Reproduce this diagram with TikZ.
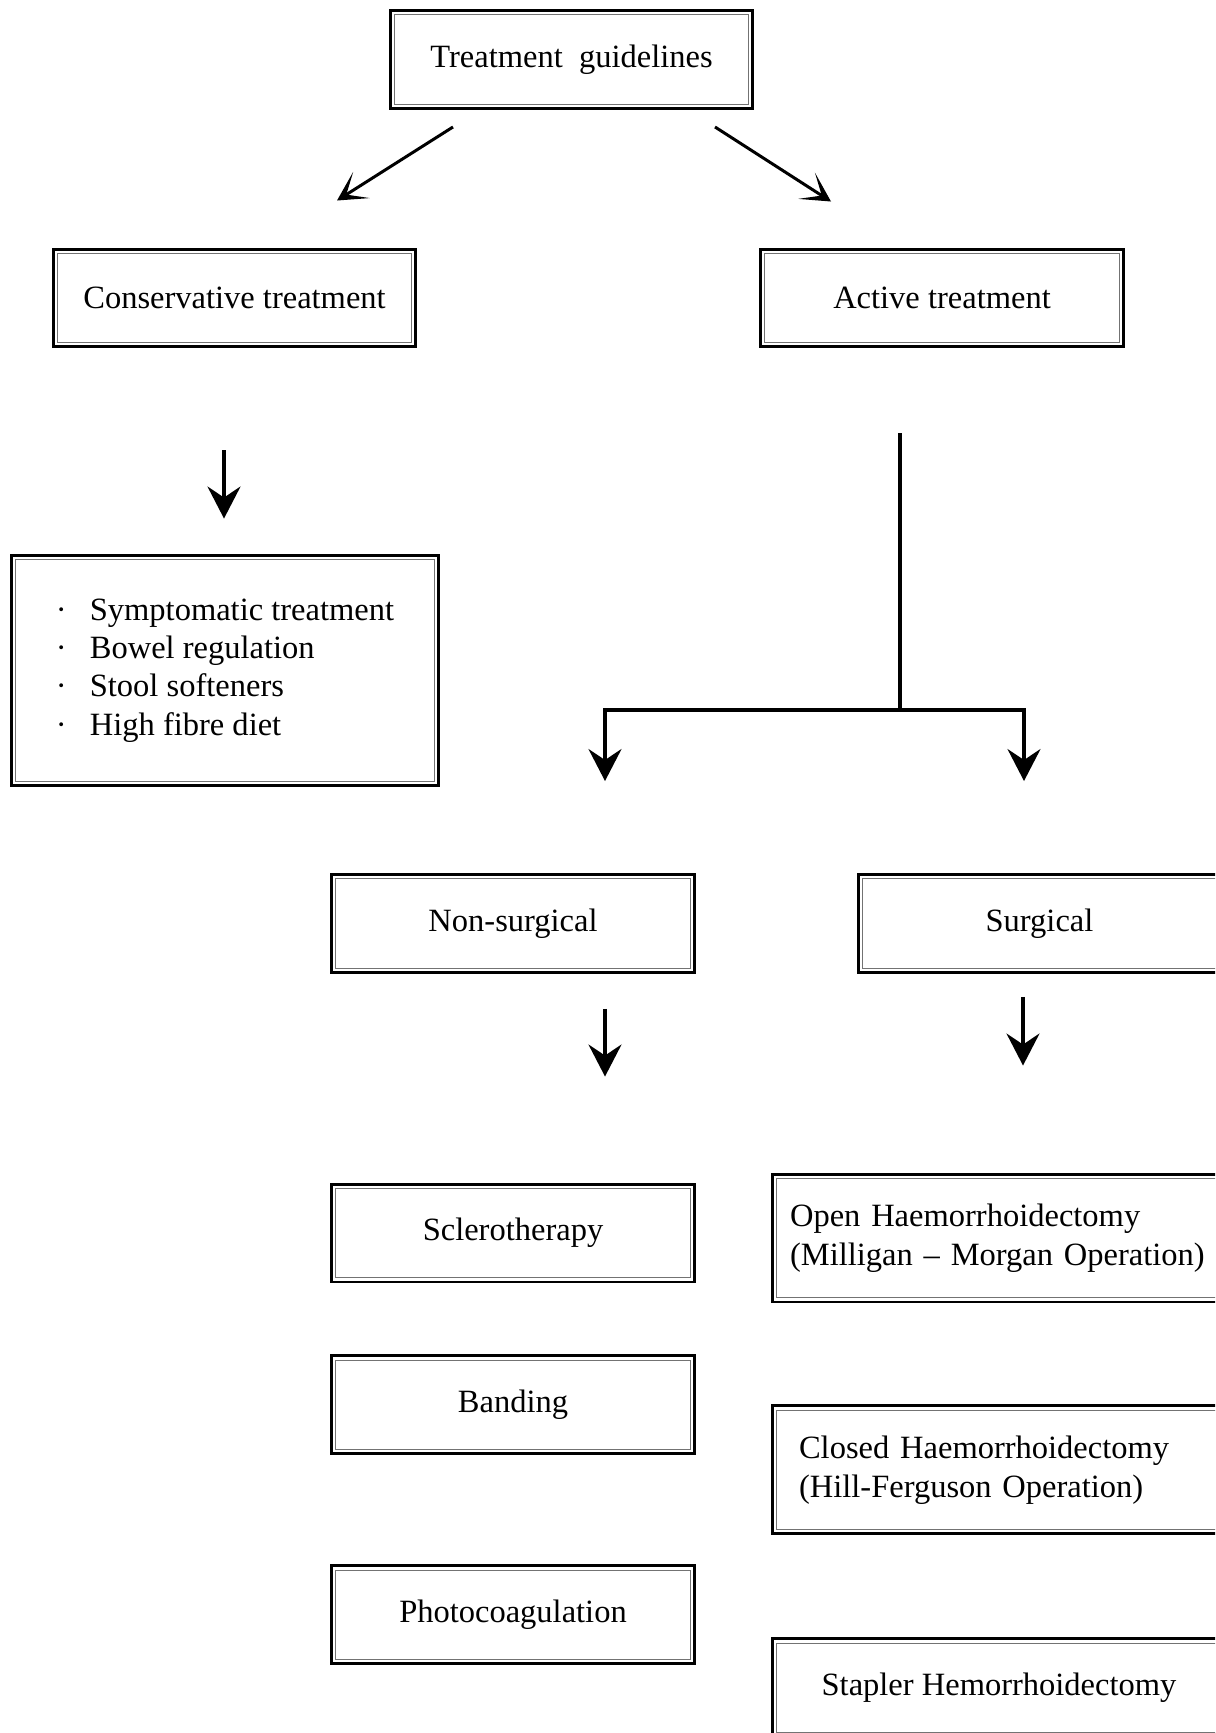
\documentclass[tikz,border=0pt]{standalone}
\usepackage{fontspec}
\setmainfont{Liberation Serif}
\usetikzlibrary{positioning, arrows.meta}

\begin{document}
\begin{tikzpicture}[
        x = 0.02cm, y = -0.02cm,
      box/.style = {rectangle, draw, line width=1.7pt, minimum width=7.26cm, minimum height=1.96cm,
                    font=\fontsize{18.5}{22}\selectfont,
                    path picture={\draw[line width=0.6pt, black!55]
                        ([shift={(2.4pt,-2.4pt)}]path picture bounding box.north west) rectangle
                        ([shift={(-2.4pt,2.4pt)}]path picture bounding box.south east);}},
     wbox/.style = {box, minimum width=9.08cm, minimum height=2.56cm, align=left},
      arr/.style = {line width=1.9pt, -{Stealth[length=0.64cm, width=0.66cm, inset=0.22cm]}},
     darr/.style = {line width=1.7pt, -{Stealth[length=0.58cm, width=0.62cm, inset=0.36cm]}}
                        ]
\useasboundingbox (0,0) rectangle (1215,1733);
\clip (0,0) rectangle (1215,1733);
\node (guide)  [box] at (571.5,59.5) {Treatment\hspace{0.5em}guidelines};
\node (cons)   [box] at (234.5,298) {Conservative treatment};
\node (active) [box] at (942,298) {Active treatment};
\node (list)   [box, minimum width=8.56cm, minimum height=4.62cm, align=left,
                font=\fontsize{18.5}{21.8}\selectfont] at (225,670.5)
               {\makebox[0.68cm][l]{·}Symptomatic treatment\\
                \makebox[0.68cm][l]{·}Bowel regulation\\
                \makebox[0.68cm][l]{·}Stool softeners\\
                \makebox[0.68cm][l]{·}High fibre diet};
\node (nons)   [box] at (513,923.5) {Non-surgical};
\node (surg)   [box] at (1039.5,923.5) {Surgical};
\node (scl)    [box] at (513,1233) {Sclerotherapy};
\node (band)   [box, below=1.42cm of scl] {Banding};
\node (photo)  [box, below=2.18cm of band] {Photocoagulation};
\node (open)   [wbox, text width=8.36cm, inner xsep=0.36cm] at (999,1238)
               {Open Haemorrhoidectomy\\(Milligan – Morgan Operation)};
\node (closed) [wbox, text width=8.0cm, inner xsep=0.54cm, below=2.02cm of open]
               {Closed Haemorrhoidectomy\\(Hill-Ferguson Operation)};
\node (stapler)[box, minimum width=9.08cm, below=2.04cm of closed] {Stapler Hemorrhoidectomy};
\coordinate (split) at (900,710);
\draw[darr] ([shift={(-118.5,17)}]guide.south) -- ([shift={(102.5,-47)}]cons.north);
\draw[darr] ([shift={(143.5,17)}]guide.south) -- ([shift={(-111,-46)}]active.north);
\draw[arr] ([shift={(-10.5,102)}]cons.south) -- ([shift={(-1,-35)}]list.north);
\draw[line width=1.9pt] ([shift={(-42,85)}]active.south) -- (split);
\draw[arr] (split) -| ([shift={(92,-92)}]nons.north);
\draw[arr] (split) -| ([shift={(-15.5,-92)}]surg.north);
\draw[arr] ([shift={(92,35)}]nons.south) -- ([shift={(92,-106)}]scl.north);
\draw[arr] ([shift={(-16.5,23)}]surg.south) -- ([shift={(24,-107)}]open.north);
\end{tikzpicture}
\end{document}
